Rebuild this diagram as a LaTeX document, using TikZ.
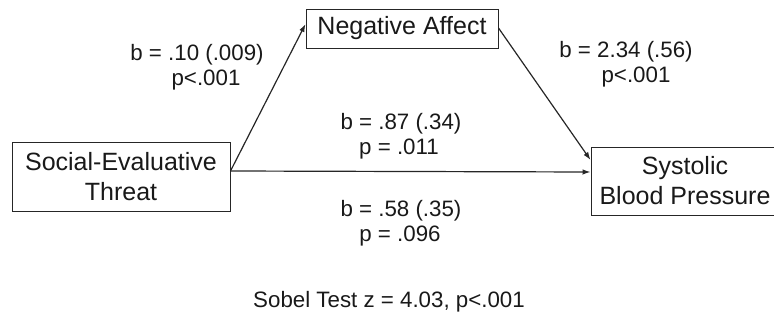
\documentclass[tikz,border=0pt]{standalone}
\usepackage{fontspec}
\setmainfont{Liberation Sans}
\usetikzlibrary{arrows.meta}
\begin{document}
\begin{tikzpicture}[x=1pt,y=-1pt,
  box/.style={draw=black!85,line width=1pt,inner sep=0pt,align=center,font=\fontsize{25}{30}\selectfont,text=black!90},
  lbl/.style={inner sep=0pt,font=\fontsize{22.3}{25}\selectfont,text=black!90},
  conn/.style={line width=1.2pt,draw=black!85,-{Latex[length=8pt,width=5.5pt]}}]
\useasboundingbox (0,0) rectangle (774,324);
\node[box,minimum width=218pt,minimum height=69pt] (SET) at (121,176.5) {Social-Evaluative\\Threat};
\node[box,minimum width=192pt,minimum height=39pt] (NA) at (402,28.5) {Negative Affect};
\node[box,minimum width=188pt,minimum height=68pt] (SBP) at (685,181) {Systolic\\Blood Pressure};
\coordinate (start) at ([yshift=5.5pt]SET.east);
\draw[conn] (start) -- ([yshift=4.5pt]NA.west);
\draw[conn] (start) -- ([yshift=9pt]SBP.west);
\draw[conn] ([yshift=0.5pt]NA.east) -- ([yshift=21pt]SBP.west);
\node[lbl] (a1) at (197,55) {b = .10 (.009)};
\node[lbl] (a2) at (206,80) {p<.001};
\node[lbl] (b1) at (626,52) {b = 2.34 (.56)};
\node[lbl] (b2) at (636,77) {p<.001};
\node[lbl] (c1) at (401,124) {b = .87 (.34)};
\node[lbl] (c2) at (399,149) {p = .011};
\node[lbl] (d1) at (401,211) {b = .58 (.35)};
\node[lbl] (d2) at (400,236) {p = .096};
\node[lbl] (sobel) at (389,302) {Sobel Test z = 4.03, p<.001};
\end{tikzpicture}
\end{document}
